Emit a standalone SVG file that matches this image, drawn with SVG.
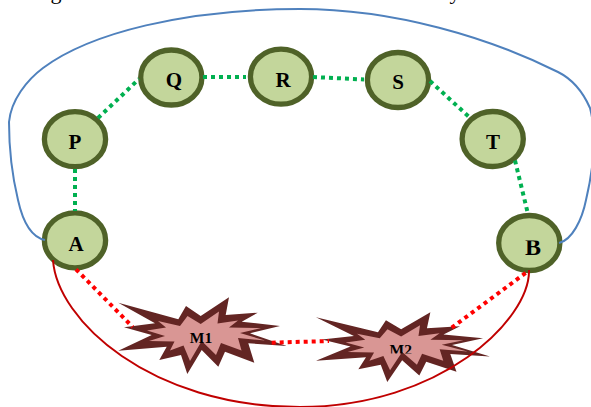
<svg xmlns="http://www.w3.org/2000/svg" width="591" height="407" viewBox="0 0 591 407">
<style>
.n{fill:#c3d69b;stroke:#4f6228;stroke-width:5.3}
.t{font-family:"Liberation Serif",serif;font-weight:bold;fill:#000;text-anchor:middle;font-size:21px}
.m{font-size:15.5px}
.top{font-family:"Liberation Serif",serif;fill:#000;font-size:22px;text-anchor:middle}
.g{fill:none;stroke:#00b050;stroke-width:4;stroke-dasharray:4 4}
.r{fill:none;stroke:#f00;stroke-width:4;stroke-dasharray:4 4}
.so{fill:#632523}
.si{fill:#d99694}
</style>
<defs>
<g id="star">
<polygon class="so" points="118.3,302.7 178.3,319.3 186,306 200.7,316 229,297.3 225.7,315 257.7,312.7 241.7,321.7 280,326 250,333.3 286.7,346 248.3,343.3 254.3,362.7 225,351.7 218.3,366.7 201.7,350 187.3,374 181,355 159.3,360 166.7,346.7 118.3,350.7 151.7,335 124,327.3 155,323.3"/>
<polygon class="si" points="158,321 180,326 187.5,316 200.7,324 219,311.5 217.5,323.5 238,320.5 229,327.5 261,328 240,333 265,340.5 238,338 241.5,350.5 221,343 216,355 201.7,341 190,361 183.5,345.5 170,350.5 174.5,341.5 149,341 165,336 147,330.5 166,327.5"/>
</g>
<clipPath id="clipM2"><rect x="370" y="330" width="60" height="23.5"/></clipPath>
<clipPath id="clipB"><rect x="515" y="240.5" width="35" height="20"/></clipPath>
</defs>
<text class="top" x="56" y="-1">g</text>
<text class="top" x="455" y="-1">y</text>
<g id="node-P"><ellipse class="n" cx="75" cy="139.2" rx="30.6" ry="27.5"/><text class="t" x="75" y="149">P</text></g>
<g id="node-Q"><ellipse class="n" cx="171.3" cy="77.5" rx="30.6" ry="27.5"/><text class="t" x="174" y="87">Q</text></g>
<g id="node-R"><ellipse class="n" cx="281" cy="76.7" rx="30.6" ry="27.5"/><text class="t" x="283" y="86.5">R</text></g>
<g id="node-S"><ellipse class="n" cx="398" cy="80" rx="30.6" ry="27.5"/><text class="t" x="398" y="89">S</text></g>
<g id="node-T"><ellipse class="n" cx="492.7" cy="139" rx="30.6" ry="27.5"/><text class="t" x="493" y="149">T</text></g>
<g id="node-A"><ellipse class="n" cx="75" cy="240.3" rx="30.6" ry="27.5"/><text class="t" x="76" y="250.5">A</text></g>
<g id="node-B"><ellipse class="n" cx="529.3" cy="243" rx="30.6" ry="27.5"/><text class="t" x="533" y="255" style="font-size:24px" clip-path="url(#clipB)">B</text></g>
<g id="node-M1"><use href="#star"/><text class="t m" x="201" y="342.7">M1</text></g>
<g id="node-M2"><use href="#star" transform="translate(193.8 41.7) scale(1.033 .91)"/><text class="t m" x="400.7" y="354.5" clip-path="url(#clipM2)">M2</text></g>
<g id="connectors">
<path d="M45 240C30 237 22 218 18 200C12 175 9 150 9 122C11 100 27 80 43 68C90 33 185 9 300 9C395 9 490 38 558 72C572 79 583 92 590 108C597 135 593 170 586 200C582 220 572 240 559 243" fill="none" stroke="#4f81bd" stroke-width="2"/>
<path d="M53 260C57 320 150 407 300 407C440 407 530 320 529 270" fill="none" stroke="#c00000" stroke-width="2"/>
<path class="g" d="M75 169V211M98 118L139 79M203 77H246M313 77L364 79.5M430 81L471 118.7M515 160.5L528 214"/>
<path class="r" d="M76 269.3L132.7 327M271.7 342.7L329 341M451.7 327.7L528.3 271"/>
</g>
</svg>
